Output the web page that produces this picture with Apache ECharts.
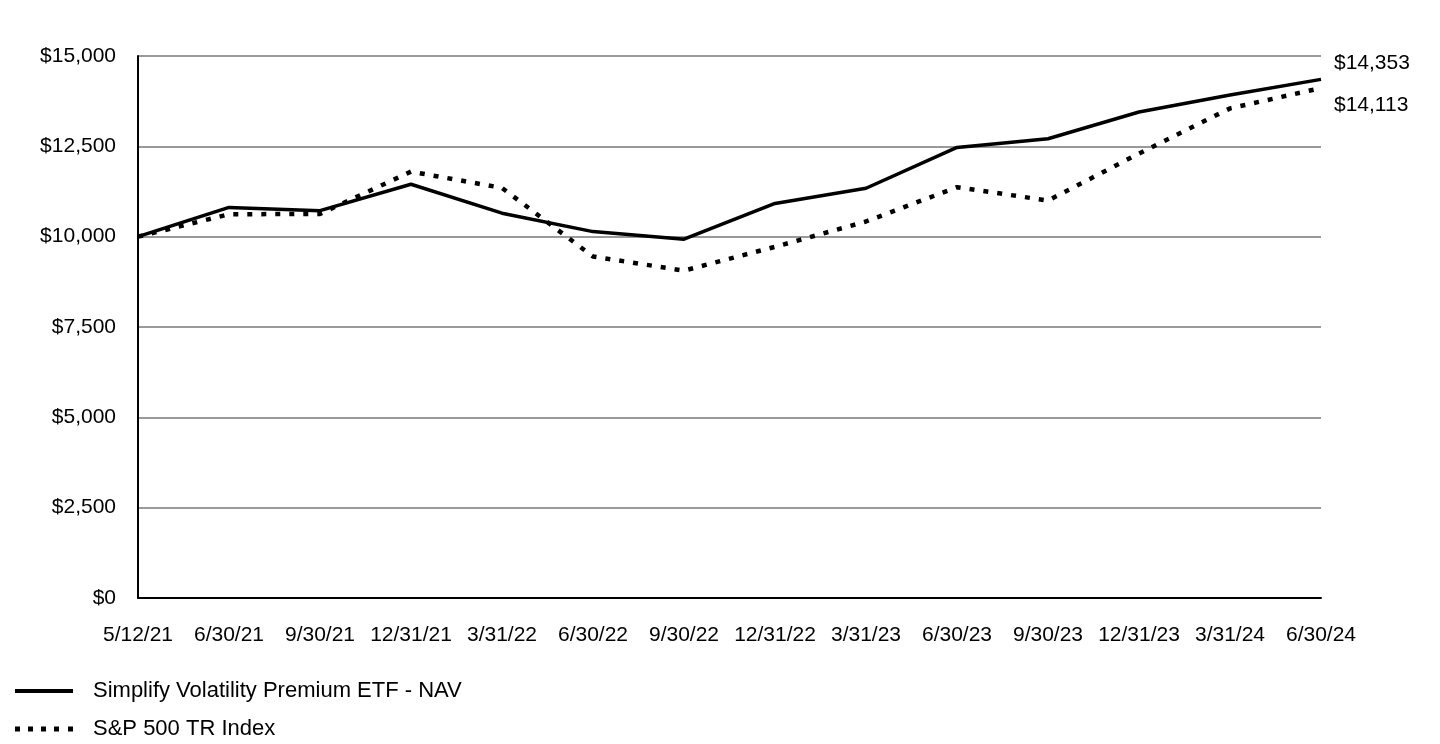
<!DOCTYPE html>
<html><head><meta charset="utf-8">
<script src="https://cdn.jsdelivr.net/npm/echarts@6/dist/echarts.min.js"></script>
<style>html,body{margin:0;padding:0;background:#fff}#c{width:1440px;height:744px}</style>
</head><body><div id="c"></div>
<script>
const categories = ['5/12/21','6/30/21','9/30/21','12/31/21','3/31/22','6/30/22','9/30/22','12/31/22','3/31/23','6/30/23','9/30/23','12/31/23','3/31/24','6/30/24'];
const etfNav = [10000,10810,10720,11450,10650,10140,9930,10920,11340,12470,12710,13450,13920,14353];
const sp500 = [10000,10620,10630,11800,11350,9450,9060,9720,10420,11370,11000,12300,13550,14113];
const seriesNames = ['Simplify Volatility Premium ETF - NAV','S&P 500 TR Index'];
const yTicks = {min:0, max:15000, interval:2500};

const fmt = v => '$' + Math.round(v).toLocaleString('en-US');
const font = 'Liberation Sans, Arial, sans-serif';
const solidIcon = 'path://M0,0h58v4h-58z';
const dotIcon = 'path://M0,0h5v5h-5z M13,0h5v5h-5z M26,0h5v5h-5z M39,0h5v5h-5z M53,0h5v5h-5z';
const chart = echarts.init(document.getElementById('c'), null, {renderer:'canvas'});
chart.setOption({
  animation:false,
  grid:{left:138,right:119,top:56,bottom:146,containLabel:false},
  legend:{
    orient:'vertical', left:15, top:680, padding:0, height:120, itemGap:16, itemWidth:58, itemHeight:5,
    textStyle:{fontFamily:font,fontSize:22,color:'#000',padding:[0,0,0,15]},
    itemStyle:{color:'#000',borderWidth:0},
    data:[{name:seriesNames[0],icon:solidIcon},{name:seriesNames[1],icon:dotIcon}]
  },
  xAxis:{
    type:'category', data:categories, boundaryGap:false,
    axisLine:{lineStyle:{color:'#000',width:2}},
    axisTick:{show:false},
    axisLabel:{fontFamily:font,fontSize:21,color:'#000',margin:27,interval:0},
    splitLine:{show:false}
  },
  yAxis:{
    type:'value', min:yTicks.min, max:yTicks.max, interval:yTicks.interval,
    axisLine:{show:true,lineStyle:{color:'#000',width:2}},
    axisTick:{show:false},
    axisLabel:{fontFamily:font,fontSize:21,color:'#000',margin:22,formatter:fmt},
    splitLine:{lineStyle:{color:'#999',width:2}}
  },
  series:[
    {name:seriesNames[0],type:'line',data:etfNav,symbol:'none',
     lineStyle:{color:'#000',width:3.5,type:'solid'},itemStyle:{color:'#000'},
     endLabel:{show:true,formatter:p=>fmt(p.value),fontFamily:font,fontSize:21,color:'#000',offset:[5,-16]},z:3},
    {name:seriesNames[1],type:'line',data:sp500,symbol:'none',
     lineStyle:{color:'#000',width:4.5,type:[5,9]},itemStyle:{color:'#000'},
     endLabel:{show:true,formatter:p=>fmt(p.value),fontFamily:font,fontSize:21,color:'#000',offset:[5,17]},z:2}
  ]
});
</script></body></html>
